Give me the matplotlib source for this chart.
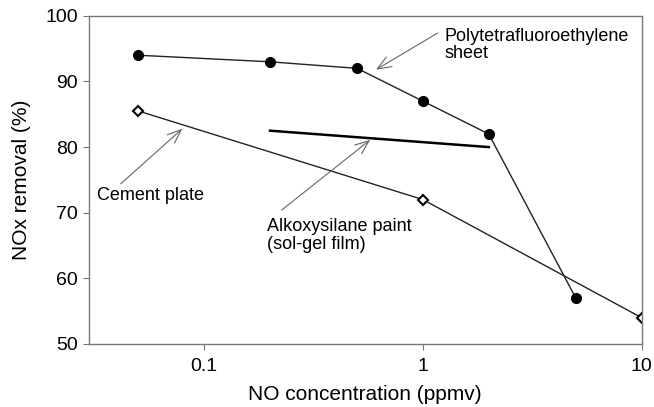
import matplotlib.pyplot as plt

plt.rcParams["font.family"] = ["Liberation Sans", "DejaVu Sans"]

# data
ptfe_x = [0.05, 0.2, 0.5, 1, 2, 5]
ptfe_y = [94, 93, 92, 87, 82, 57]
cement_x = [0.05, 1, 10]
cement_y = [85.5, 72, 54]
alkoxy_x = [0.2, 2]
alkoxy_y = [82.5, 80]
xticks = [0.1, 1, 10]
xtick_labels = ["0.1", "1", "10"]
yticks = [50, 60, 70, 80, 90, 100]

fig = plt.figure(figsize=(6.54, 4.07), dpi=100)
ax = fig.add_axes([0.136, 0.155, 0.845, 0.806])

ax.plot(ptfe_x, ptfe_y, color="#222222", lw=1.0, marker="o", ms=7,
        mfc="black", mec="black")
ax.plot(cement_x, cement_y, color="#222222", lw=1.0, marker="D", ms=5,
        mfc="white", mec="black", mew=1.5)
ax.plot(alkoxy_x, alkoxy_y, color="black", lw=1.8)

ax.set_xscale("log")
ax.set_xlim(0.0297, 10)
ax.set_ylim(50, 100)
ax.set_xticks(xticks)
ax.set_xticklabels(xtick_labels)
ax.set_yticks(yticks)
ax.minorticks_off()

for s in ax.spines.values():
    s.set_color("#777777")
    s.set_linewidth(1.0)
ax.tick_params(axis="both", direction="out", length=4, color="#777777",
               labelsize=14, pad=4)
ax.tick_params(axis="x", pad=6)

ax.set_xlabel("NO concentration (ppmv)", fontsize=15, labelpad=7)
ax.set_ylabel("NOx removal (%)", fontsize=15, labelpad=10)

arrow = dict(arrowstyle="->,head_length=1.0,head_width=0.4", color="#666666",
             lw=0.8, shrinkA=0, shrinkB=0)

ax.annotate("", xy=(0.61, 91.8), xytext=(1.17, 97.4), arrowprops=arrow)
ax.text(1.26, 98.2, "Polytetrafluoroethylene\nsheet", fontsize=13,
        va="top", ha="left", linespacing=1.05)

ax.annotate("", xy=(0.0794, 82.8), xytext=(0.0415, 74.4), arrowprops=arrow)
ax.text(0.0323, 72.6, "Cement plate", fontsize=13, va="center", ha="left")

ax.annotate("", xy=(0.574, 81.1), xytext=(0.226, 70.4), arrowprops=arrow)
ax.text(0.193, 69.2, "Alkoxysilane paint\n(sol-gel film)", fontsize=13,
        va="top", ha="left", linespacing=1.05)

fig.savefig("out.png", dpi=100)
